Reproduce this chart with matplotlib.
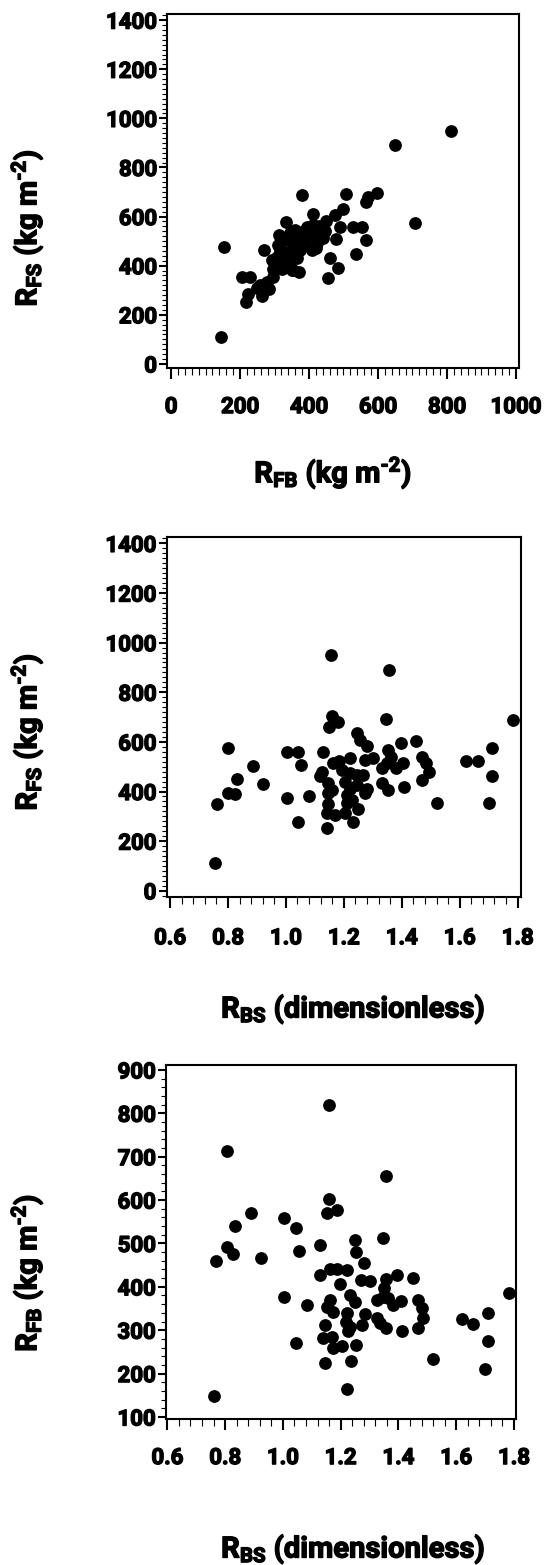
import numpy as np
import matplotlib.pyplot as plt
import matplotlib.patheffects as pe
from matplotlib.text import Text
from matplotlib.ticker import MultipleLocator, FormatStrFormatter

plt.rcParams['font.family'] = ['Roboto', 'DejaVu Sans']
plt.rcParams['font.weight'] = 'bold'
plt.rcParams['mathtext.fontset'] = 'custom'
plt.rcParams['mathtext.rm'] = 'Roboto:bold'
plt.rcParams['mathtext.it'] = 'Roboto:bold'
plt.rcParams['mathtext.bf'] = 'Roboto:bold'

# panel 1: RFB vs RFS (kg m-2)
rfb_1 = [145, 154, 205, 229, 222, 217, 264, 268, 380, 333, 314, 413, 450, 474, 500,
         490, 507, 477, 462, 485, 454, 529, 555, 565, 536, 564, 572, 596, 650, 812,
         706, 370, 354, 258, 277, 297, 297, 292, 306, 316, 311, 330, 345, 359, 354,
         340, 325, 340, 350, 364, 373, 388, 402, 417, 432, 441, 424, 408, 413, 430,
         393, 379, 359, 321, 250, 270, 283, 320, 330, 445, 420, 300, 365, 385, 345]
rfs_1 = [110, 478, 355, 352, 283, 250, 278, 465, 686, 579, 523, 610, 583, 606, 630,
         557, 690, 507, 432, 392, 349, 556, 557, 505, 449, 658, 681, 697, 890, 948,
         575, 376, 383, 322, 335, 355, 385, 423, 437, 464, 484, 505, 532, 545, 498,
         457, 423, 396, 383, 430, 464, 491, 525, 545, 525, 511, 494, 464, 566, 562,
         559, 518, 478, 385, 310, 320, 305, 410, 440, 540, 470, 400, 510, 540, 415]

# panel 2: RBS (dimensionless) vs RFS (kg m-2)
rbs_2 = [0.756, 0.763, 0.801, 0.801, 0.824, 0.830, 0.885, 0.920, 1.003, 1.005,
         1.043, 1.051, 1.041, 1.081, 1.127, 1.155, 1.355, 1.346, 1.785, 1.158,
         1.181, 1.150, 1.247, 1.256, 1.279, 1.396, 1.449, 1.469, 1.484, 1.495,
         1.469, 1.408, 1.520, 1.622, 1.662, 1.711, 1.711, 1.702, 1.141, 1.233,
         1.250, 1.204, 1.170, 1.141, 1.146, 1.221, 1.184, 1.161, 1.273, 1.300,
         1.354, 1.362, 1.348, 1.405, 1.380, 1.331, 1.123, 1.118, 1.193, 1.221,
         1.244, 1.267, 1.146, 1.158, 1.146, 1.204, 1.221, 1.244, 1.210, 1.227,
         1.279, 1.273, 1.331, 1.354, 1.210]
rfs_2 = [110, 349, 574, 392, 388, 449, 503, 429, 560, 375,
         560, 507, 277, 382, 560, 949, 889, 691, 688, 704,
         681, 658, 634, 607, 583, 597, 605, 540, 513, 480,
         446, 417, 352, 523, 523, 576, 464, 355, 251, 278,
         328, 312, 305, 314, 349, 537, 524, 513, 527, 537,
         567, 540, 513, 513, 493, 493, 480, 462, 486, 473,
         466, 466, 433, 406, 392, 439, 412, 426, 386, 365,
         412, 392, 433, 408, 352]

# panel 3: RBS (dimensionless) vs RFB (kg m-2)
rbs_3 = [0.762, 1.158, 0.808, 1.357, 1.161, 1.154, 1.186, 0.888, 1.004, 0.835,
         1.045, 1.345, 0.805, 0.826, 0.768, 0.923, 1.057, 1.128, 1.250, 1.253,
         1.282, 1.005, 1.085, 1.044, 1.784, 1.711, 1.621, 1.659, 1.711, 1.701,
         1.521, 1.223, 1.146, 1.235, 1.175, 1.203, 1.253, 1.140, 1.169, 1.146,
         1.227, 1.232, 1.218, 1.221, 1.273, 1.284, 1.325, 1.336, 1.357, 1.411,
         1.469, 1.486, 1.480, 1.469, 1.452, 1.396, 1.357, 1.350, 1.348, 1.382,
         1.408, 1.365, 1.325, 1.269, 1.302, 1.198, 1.223, 1.186, 1.163, 1.128,
         1.232, 1.250, 1.163, 1.152, 1.175]
rfb_3 = [149, 818, 712, 656, 602, 571, 576, 570, 558, 540,
         535, 512, 491, 475, 460, 467, 483, 497, 507, 481,
         456, 376, 358, 270, 385, 339, 325, 314, 274, 211,
         233, 164, 224, 230, 258, 264, 266, 281, 285, 312,
         297, 308, 320, 339, 312, 337, 327, 316, 304, 297,
         304, 327, 351, 370, 420, 427, 417, 397, 377, 358,
         367, 374, 370, 416, 414, 407, 439, 440, 440, 427,
         381, 366, 370, 354, 341]

lbl_fs = 'R$_{\\mathrm{FS}}$ (kg m$^{\\mathrm{\u20102}}$)'
lbl_fb = 'R$_{\\mathrm{FB}}$ (kg m$^{\\mathrm{\u20102}}$)'
lbl_bs = 'R$_{\\mathrm{BS}}$ (dimensionless)'

W, H = 547, 1565
fig = plt.figure(figsize=(W / 100, H / 100), dpi=100)


def panel(box, x, y, xlim, ylim, xmaj, xmin, ymaj, ymin, xfmt, xpad):
    l, r, t, b = box
    ax = fig.add_axes([l / W, 1 - b / H, (r - l) / W, (b - t) / H])
    ax.plot(x, y, 'o', color='black', markersize=9.2, markeredgewidth=0)
    ax.set_xlim(xlim)
    ax.set_ylim(ylim)
    ax.xaxis.set_major_locator(MultipleLocator(xmaj))
    ax.xaxis.set_minor_locator(MultipleLocator(xmin))
    ax.yaxis.set_major_locator(MultipleLocator(ymaj))
    ax.yaxis.set_minor_locator(MultipleLocator(ymin))
    ax.xaxis.set_major_formatter(FormatStrFormatter(xfmt))
    for s in ax.spines.values():
        s.set_linewidth(1.5)
    ax.tick_params(axis='x', which='major', length=8, width=1.5, pad=xpad, labelsize=16)
    ax.tick_params(axis='x', which='minor', length=5, width=0.8)
    ax.tick_params(axis='y', which='major', length=5.5, width=1.5, pad=2, labelsize=16)
    ax.tick_params(axis='y', which='minor', length=3.5, width=0.8)
    return ax


ax1 = panel((167.3, 519, 14, 368.3), rfb_1, rfs_1, (-11, 1009), (-18, 1425),
            200, 20, 200, 20, '%d', 12)
ax2 = panel((166.7, 521, 536.7, 896.7), rbs_2, rfs_2, (0.5885, 1.8115), (-24, 1427),
            0.2, 0.04, 200, 20, '%.1f', 14)
ax3 = panel((166, 516, 1064.7, 1419.3), rbs_3, rfb_3, (0.5954, 1.8069), (94.6, 912),
            0.2, 0.04, 100, 20, '%.1f', 12)

fig.text(27 / W, 1 - 228 / H, lbl_fs, rotation=90, ha='center', va='center', fontsize=21)
fig.text(333 / W, 1 - 473 / H, lbl_fb, ha='center', va='center', fontsize=21)
fig.text(27 / W, 1 - 732 / H, lbl_fs, rotation=90, ha='center', va='center', fontsize=21)
fig.text(353 / W, 1 - 1009 / H, lbl_bs, ha='center', va='center', fontsize=21)
fig.text(27 / W, 1 - 1273 / H, lbl_fb, rotation=90, ha='center', va='center', fontsize=21)
fig.text(353 / W, 1 - 1549 / H, lbl_bs, ha='center', va='center', fontsize=21)

# the reference uses a black-weight face; thicken the glyphs a little
for t in fig.findobj(Text):
    t.set_path_effects([pe.withStroke(linewidth=1.0, foreground='black')])

plt.savefig('out.png', dpi=100)
